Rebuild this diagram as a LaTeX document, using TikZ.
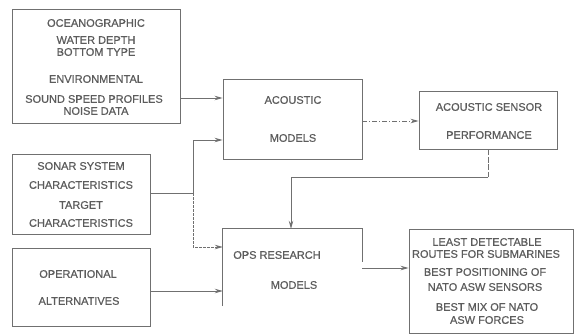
\documentclass[tikz,border=0pt]{standalone}
\usepackage{fontspec}
\setmainfont{Liberation Sans}
\newfontfamily\lblfont{Liberation Sans}[FakeBold=0.7]
\usetikzlibrary{arrows.meta}
\definecolor{ink}{HTML}{707070}
\definecolor{txt}{HTML}{5C5C5C}
\tikzset{
  box/.style={draw=ink, line width=0.9pt, minimum width=#1, inner sep=0pt},
  box/.default=100pt,
  lbl/.style={text=txt, font=\lblfont\fontsize{11}{12}\selectfont, inner sep=0pt, anchor=center},
  arr/.style={draw=ink, line width=0.9pt, -{Stealth[length=8pt,width=4.5pt]}},
  ln/.style={draw=ink, line width=0.9pt},
}
\begin{document}
\begin{tikzpicture}[x=1pt,y=-1pt]
\useasboundingbox (0,0) rectangle (579,335);
% boxes
\node[box=168pt, minimum height=114pt] (env) at (96,66) {};
\node[box=139pt, minimum height=80pt] (am) at (292.5,119) {};
\node[box=138pt, minimum height=58pt] (asp) at (488,120) {};
\node[box=138pt, minimum height=80pt] (sonar) at (81,194) {};
\node[box=138pt, minimum height=78pt] (op) at (81,287) {};
\node[minimum width=139pt, minimum height=82pt, inner sep=0pt] (ops) at (292.5,270) {};
\draw[ln] (ops.west |- 0,306) -- (ops.north west) -- (ops.north east) -- (ops.east |- 0,262);
\node[box=164pt, minimum height=104pt] (res) at (491,281) {};
% texts
\node[lbl] (t1) at (96,23) {OCEANOGRAPHIC};
\node[lbl] (t2) at (96,40) {WATER DEPTH};
\node[lbl] (t3) at (96,52) {BOTTOM TYPE};
\node[lbl] (t4) at (96,79) {ENVIRONMENTAL};
\node[lbl] (t5) at (94,99) {SOUND SPEED PROFILES};
\node[lbl] (t6) at (96,111) {NOISE DATA};
\node[lbl] (t7) at (293,100) {ACOUSTIC};
\node[lbl] (t8) at (293,138) {MODELS};
\node[lbl] (t9) at (489,107) {ACOUSTIC SENSOR};
\node[lbl] (t10) at (489,135) {PERFORMANCE};
\node[lbl] (t11) at (81,166) {SONAR SYSTEM};
\node[lbl] (t12) at (81,185) {CHARACTERISTICS};
\node[lbl] (t13) at (81,205) {TARGET};
\node[lbl] (t14) at (81,223) {CHARACTERISTICS};
\node[lbl] (t15) at (78,274) {OPERATIONAL};
\node[lbl] (t16) at (79,301) {ALTERNATIVES};
\node[lbl] (t17) at (277,255) {OPS RESEARCH};
\node[lbl] (t18) at (294,285) {MODELS};
\node[lbl] (t19) at (487,242) {LEAST DETECTABLE};
\node[lbl] (t20) at (486,254) {ROUTES FOR SUBMARINES};
\node[lbl] (t21) at (485,272) {BEST POSITIONING OF};
\node[lbl] (t22) at (485,287) {NATO ASW SENSORS};
\node[lbl] (t23) at (487,307) {BEST MIX OF NATO};
\node[lbl] (t24) at (487,320) {ASW FORCES};
% connectors
\coordinate (j1) at (193,193);
\draw[arr] (env.east |- 0,98) -- (am.west |- 0,98);
\draw[ln] (sonar.east |- j1) -- (j1);
\draw[arr] (j1) |- (am.west |- 0,140);
\draw[arr, dash pattern=on 3pt off 1pt] (j1) |- (ops.west |- 0,247);
\draw[arr] (op.east |- 0,291) -- (ops.west |- 0,291);
\draw[arr, dash pattern=on 5pt off 2pt on 1pt off 2pt] (am.east |- 0,121) -- (asp.west |- 0,121);
\coordinate (j2) at (488,177);
\draw[ln, dash pattern=on 6pt off 1.5pt] (asp.south) -- (j2);
\draw[arr] (j2) -| (ops.north -| 291,0);
\draw[arr] (ops.east |- 0,268) -- (res.west |- 0,268);
\end{tikzpicture}
\end{document}
